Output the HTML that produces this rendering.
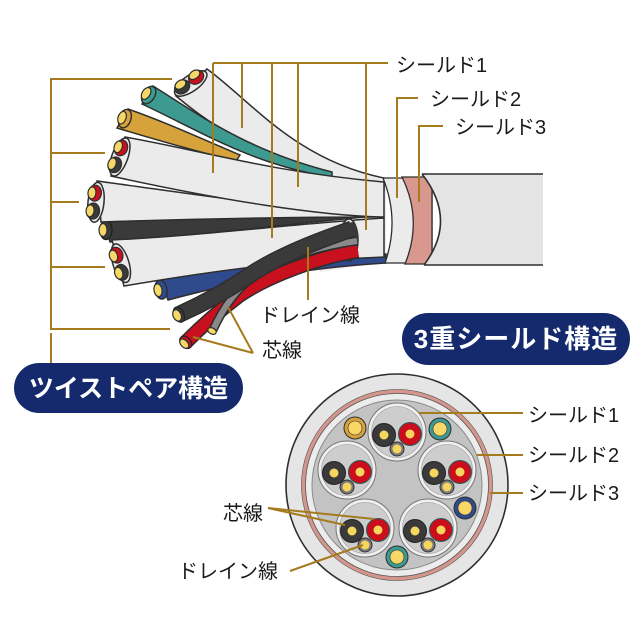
<!DOCTYPE html>
<html>
<head>
<meta charset="utf-8">
<style>
html,body{margin:0;padding:0;background:#fff;}
svg{display:block;}
text{font-family:"Liberation Sans","Noto Sans CJK JP",sans-serif;}
</style>
</head>
<body>
<svg width="640" height="640" viewBox="0 0 640 640" xmlns="http://www.w3.org/2000/svg">
<rect width="640" height="640" fill="#fff"/>

<!-- neck background -->
<path d="M300,160 L386,178 L386,262 L320,272 Z" fill="#ebebeb"/>

<!-- Cable A (white top) -->
<path d="M207,69 C250,100 295,160 384,178 L384,190 C320,182 240,150 176,96 Z" fill="#ebebeb" stroke="#2e2e2e" stroke-width="1.5"/>
<g transform="translate(189,81) rotate(55)">
 <ellipse cx="3" cy="0" rx="8" ry="19" fill="#ececec" stroke="#2e2e2e" stroke-width="1.5"/>
 <ellipse cx="1" cy="-8" rx="6.5" ry="8" fill="#c8101e" stroke="#2e2e2e" stroke-width="1.2"/>
 <ellipse cx="-2" cy="-8" rx="4" ry="6" fill="#f6d868" stroke="#2e2e2e" stroke-width="1.2"/>
 <ellipse cx="1" cy="9" rx="6.5" ry="8" fill="#3a3a3a" stroke="#2e2e2e" stroke-width="1.2"/>
 <ellipse cx="-2" cy="9" rx="4" ry="6" fill="#f6d868" stroke="#2e2e2e" stroke-width="1.2"/>
</g>

<!-- Orange single -->
<path d="M128,109 C165,122 200,138 240,155 L236,161 C195,151 160,141 117,128 Z" fill="#d6a23c" stroke="#2e2e2e" stroke-width="1.5"/>
<g transform="translate(123,118) rotate(19)">
 <ellipse cx="2" cy="0" rx="6" ry="9.5" fill="#d6a23c" stroke="#2e2e2e" stroke-width="1.4"/>
 <ellipse cx="-1" cy="0" rx="4" ry="6.5" fill="#f6d868" stroke="#2e2e2e" stroke-width="1.2"/>
</g>

<!-- Teal single -->
<path d="M153,86 C195,112 245,150 332,172 L332,177 C255,166 200,131 142,104 Z" fill="#3d9a90" stroke="#2e2e2e" stroke-width="1.5"/>
<g transform="translate(147,94) rotate(32)">
 <ellipse cx="2" cy="0" rx="6" ry="9.5" fill="#3d9a90" stroke="#2e2e2e" stroke-width="1.4"/>
 <ellipse cx="-1" cy="0" rx="4" ry="6.5" fill="#f6d868" stroke="#2e2e2e" stroke-width="1.2"/>
</g>

<!-- Black single F -->
<path d="M103,220 C190,219 280,214 374,211 L374,216 C290,224 190,236 110,242 Z" fill="#3a3a3a" stroke="#2e2e2e" stroke-width="1.5"/>
<g transform="translate(104,230)">
 <ellipse cx="2" cy="0" rx="6" ry="9.5" fill="#3a3a3a" stroke="#222" stroke-width="1.4"/>
 <ellipse cx="-1" cy="0" rx="4" ry="6.5" fill="#f6d868" stroke="#2e2e2e" stroke-width="1.2"/>
</g>

<!-- Cable E (white) -->
<path d="M97,181 C180,192 270,207 380,214 L380,217 C280,217 190,219 101,222 Z" fill="#ebebeb" stroke="#2e2e2e" stroke-width="1.5"/>
<g transform="translate(93,202) rotate(6)">
 <ellipse cx="3" cy="0" rx="8" ry="20" fill="#ececec" stroke="#2e2e2e" stroke-width="1.5"/>
 <ellipse cx="1" cy="-9" rx="6.5" ry="8" fill="#c8101e" stroke="#2e2e2e" stroke-width="1.2"/>
 <ellipse cx="-2" cy="-9" rx="4" ry="6" fill="#f6d868" stroke="#2e2e2e" stroke-width="1.2"/>
 <ellipse cx="1" cy="9" rx="6.5" ry="8" fill="#3a3a3a" stroke="#2e2e2e" stroke-width="1.2"/>
 <ellipse cx="-2" cy="9" rx="4" ry="6" fill="#f6d868" stroke="#2e2e2e" stroke-width="1.2"/>
</g>

<!-- Cable D (white) -->
<path d="M125,137 C200,150 270,172 384,182 L384,217 C320,216 220,200 111,176 Z" fill="#ebebeb" stroke="#2e2e2e" stroke-width="1.5"/>
<g transform="translate(117,156) rotate(20)">
 <ellipse cx="3" cy="0" rx="8" ry="20" fill="#ececec" stroke="#2e2e2e" stroke-width="1.5"/>
 <ellipse cx="1" cy="-9" rx="6.5" ry="8" fill="#c8101e" stroke="#2e2e2e" stroke-width="1.2"/>
 <ellipse cx="-2" cy="-9" rx="4" ry="6" fill="#f6d868" stroke="#2e2e2e" stroke-width="1.2"/>
 <ellipse cx="1" cy="9" rx="6.5" ry="8" fill="#3a3a3a" stroke="#2e2e2e" stroke-width="1.2"/>
 <ellipse cx="-2" cy="9" rx="4" ry="6" fill="#f6d868" stroke="#2e2e2e" stroke-width="1.2"/>
</g>

<!-- Blue single H -->
<path d="M160,279 C220,270 300,260 386,254 L386,263 C300,268 240,281 168,300 Z" fill="#2f4b8e" stroke="#2e2e2e" stroke-width="1.5"/>
<g transform="translate(159,290) rotate(-10)">
 <ellipse cx="2" cy="0" rx="6" ry="9.5" fill="#2f4b8e" stroke="#2e2e2e" stroke-width="1.4"/>
 <ellipse cx="-1" cy="0" rx="4" ry="6.5" fill="#f6d868" stroke="#2e2e2e" stroke-width="1.2"/>
</g>

<!-- Cable G (white) -->
<path d="M112,240 C200,236 290,224 384,218 L384,257 C300,260 230,268 124,286 Z" fill="#ebebeb" stroke="#2e2e2e" stroke-width="1.5"/>
<g transform="translate(118,264) rotate(-17)">
 <ellipse cx="3" cy="0" rx="8" ry="20" fill="#ececec" stroke="#2e2e2e" stroke-width="1.5"/>
 <ellipse cx="1" cy="-9" rx="6.5" ry="8" fill="#c8101e" stroke="#2e2e2e" stroke-width="1.2"/>
 <ellipse cx="-2" cy="-9" rx="4" ry="6" fill="#f6d868" stroke="#2e2e2e" stroke-width="1.2"/>
 <ellipse cx="1" cy="9" rx="6.5" ry="8" fill="#3a3a3a" stroke="#2e2e2e" stroke-width="1.2"/>
 <ellipse cx="-2" cy="9" rx="4" ry="6" fill="#f6d868" stroke="#2e2e2e" stroke-width="1.2"/>
</g>

<!-- cut opening of twisted pair shield -->
<ellipse cx="349" cy="240" rx="9" ry="21" fill="#ebebeb" stroke="#2e2e2e" stroke-width="1.5"/>
<ellipse cx="352" cy="240" rx="6" ry="18" fill="#3a3a3a"/>

<!-- twisted pair wires -->
<path d="M358,251 C320,257 270,275 240,295 C220,310 200,328 186,342" fill="none" stroke="#2e2e2e" stroke-width="15"/>
<path d="M358,251 C320,257 270,275 240,295 C220,310 200,328 186,342" fill="none" stroke="#c8101e" stroke-width="12"/>
<path d="M357,241 C320,246 280,258 255,275 C235,290 222,310 213,330" fill="none" stroke="#2e2e2e" stroke-width="9"/>
<path d="M357,241 C320,246 280,258 255,275 C235,290 222,310 213,330" fill="none" stroke="#8a8a8a" stroke-width="6"/>
<path d="M352,229 C320,240 280,255 250,275 C225,292 200,305 180,314" fill="none" stroke="#2e2e2e" stroke-width="17"/>
<path d="M352,229 C320,240 280,255 250,275 C225,292 200,305 180,314" fill="none" stroke="#3a3a3a" stroke-width="14"/>
<g transform="translate(178,315) rotate(-24)">
 <ellipse cx="1" cy="0" rx="5" ry="8" fill="#3a3a3a" stroke="#222" stroke-width="1.2"/>
 <ellipse cx="-1" cy="0" rx="4" ry="6" fill="#f6d868" stroke="#2e2e2e" stroke-width="1.2"/>
</g>
<g transform="translate(185,343) rotate(-42)">
 <ellipse cx="1" cy="0" rx="5" ry="7" fill="#c8101e" stroke="#222" stroke-width="1.2"/>
 <ellipse cx="-1" cy="0" rx="3.5" ry="5.5" fill="#f6d868" stroke="#2e2e2e" stroke-width="1.2"/>
</g>
<g transform="translate(212,331) rotate(-64)">
 <ellipse cx="0" cy="0" rx="3" ry="4.5" fill="#f6d868" stroke="#2e2e2e" stroke-width="1.2"/>
</g>

<!-- shield 2 -->
<path d="M383,178 L432,178 L432,263 L385,263 Q400,220 383,178 Z" fill="#ebebeb" stroke="#2e2e2e" stroke-width="1.3"/>
<!-- shield 3 pink -->
<path d="M402,177 L432,177 L432,264 L405,264 Q423,220 402,177 Z" fill="#d9988d" stroke="#2e2e2e" stroke-width="1.3"/>
<!-- jacket -->
<path d="M422,174 L543,174 L543,265 L424,265 Q458,220 422,174 Z" fill="#e4e4e4"/>
<path d="M422,174 L543,174 M424,265 L543,265 M422,174 Q458,220 424,265" fill="none" stroke="#2e2e2e" stroke-width="1.6"/>

<!-- top label lines -->
<g stroke="#a57b1d" stroke-width="2" fill="none">
 <path d="M213,63 L388,63 M213,63 L213,173 M242,63 L242,128 M272,63 L272,238 M298,63 L298,187 M366,63 L366,230"/>
 <path d="M418,98 L397,98 L397,198"/>
 <path d="M443,126 L419,126 L419,202"/>
 <path d="M308,247 L308,300"/>
 <path d="M253,353 L228,307 M253,353 L193,337"/>
 <path d="M172,79 L51,79 L51,329 L170,329 M51,153 L105,153 M51,202 L79,202 M51,267 L105,267 M51,333 L51,363"/>
</g>

<!-- top labels -->
<g font-size="20" fill="#1a1a1a">
 <text x="396" y="72">シールド1</text>
 <text x="430" y="106">シールド2</text>
 <text x="455" y="134">シールド3</text>
 <text x="260" y="322">ドレイン線</text>
 <text x="262" y="357">芯線</text>
</g>

<!-- pills -->
<rect x="14" y="363" width="229" height="50" rx="25" fill="#142a6c"/>
<text x="128.5" y="397" font-size="25" font-weight="bold" fill="#fff" text-anchor="middle">ツイストペア構造</text>
<rect x="402" y="313" width="228" height="52" rx="26" fill="#142a6c"/>
<text x="516" y="348" font-size="26" font-weight="bold" fill="#fff" text-anchor="middle" letter-spacing="1">3重シールド構造</text>

<!-- cross section -->
<circle cx="397" cy="485" r="111" fill="#e5e5e5" stroke="#2e2e2e" stroke-width="1.6"/>
<circle cx="397" cy="485" r="95.5" fill="none" stroke="#555" stroke-width="0.8"/>
<circle cx="397" cy="485" r="93.5" fill="none" stroke="#d4968b" stroke-width="3.5"/>
<circle cx="397" cy="485" r="91.5" fill="#ececec" stroke="#555" stroke-width="0.8"/>
<circle cx="397" cy="485" r="85" fill="#c3c3c3" stroke="#8a8a8a" stroke-width="1"/>

<!-- singles in cross section -->
<g stroke="#2e2e2e" stroke-width="1">
 <circle cx="355" cy="428" r="11" fill="#d6a23c"/><circle cx="355" cy="428" r="7" fill="#f8d766" stroke-width="0.6"/>
 <circle cx="440" cy="429" r="11" fill="#3d9a90"/><circle cx="440" cy="429" r="7" fill="#f8d766" stroke-width="0.6"/>
 <circle cx="465" cy="508" r="11" fill="#2f4b8e"/><circle cx="465" cy="508" r="7" fill="#f8d766" stroke-width="0.6"/>
 <circle cx="397" cy="557" r="11" fill="#3d9a90"/><circle cx="397" cy="557" r="7" fill="#f8d766" stroke-width="0.6"/>
</g>

<!-- pairs in cross section -->
<g>
 <g transform="translate(397,432)">
  <circle r="29" fill="#efefef" stroke="#777" stroke-width="1"/>
  <circle r="25.5" fill="#cdcdcd" stroke="#999" stroke-width="0.6"/>
  <circle cx="-13" cy="3" r="11.5" fill="#3a3a3a" stroke="#222" stroke-width="1"/><circle cx="-13" cy="3" r="4.5" fill="#f7d660"/>
  <circle cx="13" cy="2" r="11.5" fill="#cc0e1c" stroke="#1e5f5a" stroke-width="1"/><circle cx="13" cy="2" r="4.5" fill="#f7d660"/>
  <circle cx="0" cy="17" r="7" fill="#7a7a7a" stroke="#333" stroke-width="1"/><circle cx="0" cy="17" r="4.5" fill="#f7d660"/>
 </g>
 <g transform="translate(347,470)">
  <circle r="29" fill="#efefef" stroke="#777" stroke-width="1"/>
  <circle r="25.5" fill="#cdcdcd" stroke="#999" stroke-width="0.6"/>
  <circle cx="-13" cy="3" r="11.5" fill="#3a3a3a" stroke="#222" stroke-width="1"/><circle cx="-13" cy="3" r="4.5" fill="#f7d660"/>
  <circle cx="13" cy="2" r="11.5" fill="#cc0e1c" stroke="#1e5f5a" stroke-width="1"/><circle cx="13" cy="2" r="4.5" fill="#f7d660"/>
  <circle cx="0" cy="17" r="7" fill="#7a7a7a" stroke="#333" stroke-width="1"/><circle cx="0" cy="17" r="4.5" fill="#f7d660"/>
 </g>
 <g transform="translate(447,470)">
  <circle r="29" fill="#efefef" stroke="#777" stroke-width="1"/>
  <circle r="25.5" fill="#cdcdcd" stroke="#999" stroke-width="0.6"/>
  <circle cx="-13" cy="3" r="11.5" fill="#3a3a3a" stroke="#222" stroke-width="1"/><circle cx="-13" cy="3" r="4.5" fill="#f7d660"/>
  <circle cx="13" cy="2" r="11.5" fill="#cc0e1c" stroke="#1e5f5a" stroke-width="1"/><circle cx="13" cy="2" r="4.5" fill="#f7d660"/>
  <circle cx="0" cy="17" r="7" fill="#7a7a7a" stroke="#333" stroke-width="1"/><circle cx="0" cy="17" r="4.5" fill="#f7d660"/>
 </g>
 <g transform="translate(365,528)">
  <circle r="29" fill="#efefef" stroke="#777" stroke-width="1"/>
  <circle r="25.5" fill="#cdcdcd" stroke="#999" stroke-width="0.6"/>
  <circle cx="-13" cy="3" r="11.5" fill="#3a3a3a" stroke="#222" stroke-width="1"/><circle cx="-13" cy="3" r="4.5" fill="#f7d660"/>
  <circle cx="13" cy="2" r="11.5" fill="#cc0e1c" stroke="#1e5f5a" stroke-width="1"/><circle cx="13" cy="2" r="4.5" fill="#f7d660"/>
  <circle cx="0" cy="17" r="7" fill="#7a7a7a" stroke="#333" stroke-width="1"/><circle cx="0" cy="17" r="4.5" fill="#f7d660"/>
 </g>
 <g transform="translate(428,528)">
  <circle r="29" fill="#efefef" stroke="#777" stroke-width="1"/>
  <circle r="25.5" fill="#cdcdcd" stroke="#999" stroke-width="0.6"/>
  <circle cx="-13" cy="3" r="11.5" fill="#3a3a3a" stroke="#222" stroke-width="1"/><circle cx="-13" cy="3" r="4.5" fill="#f7d660"/>
  <circle cx="13" cy="2" r="11.5" fill="#cc0e1c" stroke="#1e5f5a" stroke-width="1"/><circle cx="13" cy="2" r="4.5" fill="#f7d660"/>
  <circle cx="0" cy="17" r="7" fill="#7a7a7a" stroke="#333" stroke-width="1"/><circle cx="0" cy="17" r="4.5" fill="#f7d660"/>
 </g>
</g>

<!-- cross section label lines -->
<g stroke="#a57b1d" stroke-width="2" fill="none">
 <path d="M419,413 L523,413"/>
 <path d="M477,455 L523,455"/>
 <path d="M490,493 L523,493"/>
 <path d="M268,508 L345,525 M268,508 L374,519"/>
 <path d="M290,571 L363,545"/>
</g>

<g font-size="20" fill="#1a1a1a">
 <text x="528" y="422">シールド1</text>
 <text x="528" y="462">シールド2</text>
 <text x="528" y="500">シールド3</text>
 <text x="223" y="520">芯線</text>
 <text x="178" y="578">ドレイン線</text>
</g>
</svg>
</body>
</html>
